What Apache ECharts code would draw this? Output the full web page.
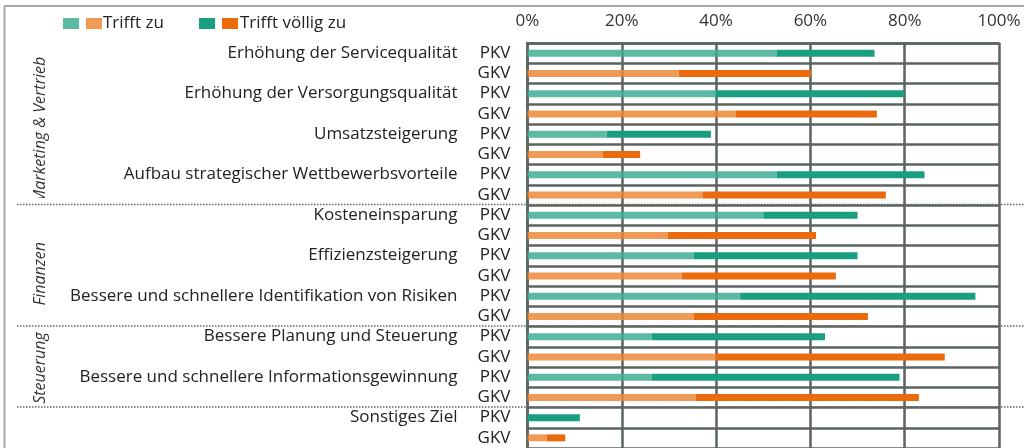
<!DOCTYPE html>
<html>
<head>
<meta charset="utf-8">
<script src="https://cdn.jsdelivr.net/npm/echarts@6/dist/echarts.min.js"></script>
<style>
  html, body { margin: 0; padding: 0; background: #fff; }
  #chart { width: 1024px; height: 448px; }
</style>
</head>
<body>
<div id="chart"></div>
<script>
const items = [
  'Erhöhung der Servicequalität',
  'Erhöhung der Versorgungsqualität',
  'Umsatzsteigerung',
  'Aufbau strategischer Wettbewerbsvorteile',
  'Kosteneinsparung',
  'Effizienzsteigerung',
  'Bessere und schnellere Identifikation von Risiken',
  'Bessere Planung und Steuerung',
  'Bessere und schnellere Informationsgewinnung',
  'Sonstiges Ziel'
];
const groups = ['PKV', 'GKV'];
// percent values
const zuPKV = [52.8, 40.0, 16.8, 52.8, 50.0, 35.2, 45.1, 26.3, 26.3, 0];
const voelligPKV = [20.8, 39.9, 22.1, 31.4, 20.0, 34.8, 49.9, 36.8, 52.6, 11.1];
const zuGKV = [32.1, 44.1, 15.9, 37.1, 29.7, 32.7, 35.2, 40.0, 35.7, 4.1];
const voelligGKV = [28.0, 30.0, 8.0, 38.9, 31.5, 32.7, 37.0, 48.5, 47.3, 3.9];
const xTicks = [0, 20, 40, 60, 80, 100];
const sections = [
  { name: 'Marketing & Vertrieb', first: 0, last: 3, shift: 6 },
  { name: 'Finanzen', first: 4, last: 6, shift: 8 },
  { name: 'Steuerung', first: 7, last: 8, shift: 1 },
  { name: 'Sonstiges', first: 9, last: 9, hideLabel: true }
];

const colors = {
  zuPKV: 'rgba(64,174,148,0.85)',
  zuGKV: 'rgba(237,136,58,0.85)',
  voelligPKV: '#1a9e80',
  voelligGKV: '#ea6a0c'
};
const gridColor = '#5b6361';
const font = 'Open Sans';
const fs = 17;

// one row per item and group
const groupLabels = [];
const nameLabels = [];
const zuData = [];
const voelligData = [];
items.forEach((name, i) => {
  groupLabels.push(groups[0], groups[1]);
  nameLabels.push(name, '');
  zuData.push({ value: zuPKV[i], itemStyle: { color: colors.zuPKV } });
  zuData.push({ value: zuGKV[i], itemStyle: { color: colors.zuGKV } });
  voelligData.push({ value: voelligPKV[i], itemStyle: { color: colors.voelligPKV } });
  voelligData.push({ value: voelligGKV[i], itemStyle: { color: colors.voelligGKV } });
});

const chart = echarts.init(document.getElementById('chart'));
const lineStyle = { color: gridColor, width: 2.5 };

const option = {
  animation: false,
  textStyle: { fontFamily: font },
  grid: { left: 527.5, width: 471.5, top: 43, height: 406 },
  xAxis: {
    type: 'value',
    position: 'top',
    min: xTicks[0],
    max: xTicks[xTicks.length - 1],
    interval: xTicks[1] - xTicks[0],
    axisLine: { show: true, lineStyle },
    axisTick: { show: false },
    splitLine: { show: true, lineStyle },
    axisLabel: { formatter: '{value}%', fontSize: fs, color: '#333', margin: 13 }
  },
  yAxis: [
    {
      type: 'category',
      inverse: true,
      data: groupLabels,
      axisLine: { show: true, lineStyle },
      axisTick: { show: false },
      splitLine: { show: true, interval: 0, lineStyle },
      axisLabel: { interval: 0, fontSize: fs, color: '#222', margin: 17 }
    },
    {
      type: 'category',
      inverse: true,
      position: 'left',
      offset: 62,
      data: nameLabels,
      axisLine: { show: false },
      axisTick: { show: false },
      splitLine: { show: false },
      axisLabel: { interval: 0, fontSize: fs, color: '#222', margin: 8 }
    }
  ],
  series: [
    {
      name: 'Trifft zu',
      type: 'bar',
      stack: 'total',
      barWidth: 7,
      yAxisIndex: 0,
      data: zuData
    },
    {
      name: 'Trifft völlig zu',
      type: 'bar',
      stack: 'total',
      barWidth: 7,
      yAxisIndex: 0,
      data: voelligData
    }
  ]
};
chart.setOption(option);

// frame, legend, section labels and separators
const graphic = [
  { type: 'line', shape: { x1: 4, y1: 6, x2: 1024, y2: 6 }, style: { stroke: '#a8a8a8', lineWidth: 2 } },
  { type: 'line', shape: { x1: 4.5, y1: 6, x2: 4.5, y2: 448 }, style: { stroke: '#a8a8a8', lineWidth: 2 } },
  { type: 'rect', shape: { x: 63, y: 18, width: 16, height: 11 }, style: { fill: colors.zuPKV } },
  { type: 'rect', shape: { x: 86, y: 18, width: 16, height: 11 }, style: { fill: colors.zuGKV } },
  { type: 'text', x: 103, y: 23.5, style: { text: 'Trifft zu', fontSize: fs, fontFamily: font, fill: '#222', verticalAlign: 'middle' } },
  { type: 'rect', shape: { x: 199, y: 18, width: 16, height: 11 }, style: { fill: colors.voelligPKV } },
  { type: 'rect', shape: { x: 222, y: 18, width: 16, height: 11 }, style: { fill: colors.voelligGKV } },
  { type: 'text', x: 240, y: 23.5, style: { text: 'Trifft völlig zu', fontSize: fs, fontFamily: font, fill: '#222', verticalAlign: 'middle' } }
];

const rowY = (r) => chart.convertToPixel({ yAxisIndex: 0 }, r);
const half = (rowY(1) - rowY(0)) / 2;
sections.forEach((s, k) => {
  const top = rowY(s.first * 2) - half;
  const bottom = rowY(s.last * 2 + 1) + half;
  if (!s.hideLabel) {
    graphic.push({
      type: 'text',
      x: 40,
      y: (top + bottom) / 2 + s.shift,
      rotation: Math.PI / 2,
      style: {
        text: s.name, fontSize: 16, fontStyle: 'italic', fontFamily: font, fill: '#333',
        align: 'center', verticalAlign: 'middle'
      }
    });
  }
  if (k === 0) {
    // the first section label is cut off just above the separator
    graphic.push({ type: 'rect', z: 50, shape: { x: 28, y: bottom - 7, width: 26, height: 6 }, style: { fill: '#fff' } });
  }
  if (k < sections.length - 1) {
    graphic.push({
      type: 'line',
      z: 100,
      shape: { x1: 17, y1: bottom - 0.5, x2: 1024, y2: bottom - 0.5 },
      style: { stroke: '#666', lineWidth: 1.5, lineDash: [1.5, 1.5] }
    });
  }
});
chart.setOption({ graphic });
</script>
</body>
</html>
